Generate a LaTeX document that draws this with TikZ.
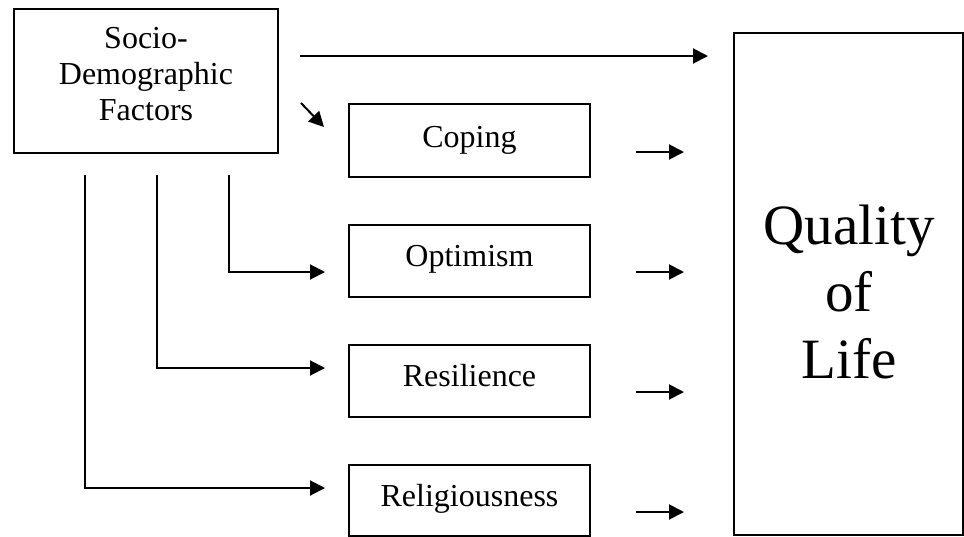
\documentclass[tikz,border=0pt]{standalone}
\usepackage{fontspec}
\setmainfont{Liberation Serif}
\usetikzlibrary{arrows.meta,calc}
\begin{document}
\begin{tikzpicture}[x=1pt,y=-1pt,
  box/.style={draw,line width=2pt,inner sep=0pt,anchor=north west},
  lbl/.style={anchor=base,inner sep=0pt,font=\fontsize{32}{36}\selectfont},
  arr/.style={line width=2pt,-{Triangle[length=15pt,width=15pt]}}]
\useasboundingbox (0,0) rectangle (964,536);
% boxes
\node[box,minimum width=264pt,minimum height=144pt] (sd) at (13,8) {};
\node[box,minimum width=241pt,minimum height=73pt] (cop) at (348,103) {};
\node[box,minimum width=241pt,minimum height=72pt] (opt) at (348,224) {};
\node[box,minimum width=241pt,minimum height=72pt] (res) at (348,344) {};
\node[box,minimum width=241pt,minimum height=71pt] (rel) at (348,464) {};
\node[box,minimum width=229pt,minimum height=502pt] (qol) at (733,32) {};
% texts (multi-line: base anchor is the last line)
\node[lbl,align=center] (sdt) at ($(sd.north)+(0,112)$) {Socio-\\Demographic\\Factors};
\node[lbl] (copt) at ($(cop.north)+(0,44)$) {Coping};
\node[lbl] (optt) at ($(opt.north)+(0,42)$) {Optimism};
\node[lbl] (rest) at ($(res.north)+(0,42)$) {Resilience};
\node[lbl] (relt) at ($(rel.north)+(0,42)$) {Religiousness};
\node[anchor=base,inner sep=0pt,align=center,font=\fontsize{57}{67}\selectfont] (qolt) at (849,378) {Quality\\of\\Life};
% connector coordinates
\coordinate (t1) at (300,56);  \coordinate (t2) at (708,56);
\coordinate (d1) at (301,103); \coordinate (d2) at (324,127);
\coordinate (v1) at (229,175); \coordinate (h1) at (325,272);
\coordinate (v2) at (157,175); \coordinate (h2) at (325,368);
\coordinate (v3) at (85,175);  \coordinate (h3) at (325,488);
\foreach \y/\n in {152/a,272/b,392/c,512/d}{
  \coordinate (r\n1) at (636,\y); \coordinate (r\n2) at (684,\y);
}
% connectors
\draw[arr] (t1) -- (t2);
\draw[arr] (d1) -- (d2);
\draw[arr] (v1) |- (h1);
\draw[arr] (v2) |- (h2);
\draw[arr] (v3) |- (h3);
\draw[arr] (ra1) -- (ra2);
\draw[arr] (rb1) -- (rb2);
\draw[arr] (rc1) -- (rc2);
\draw[arr] (rd1) -- (rd2);
\end{tikzpicture}
\end{document}
